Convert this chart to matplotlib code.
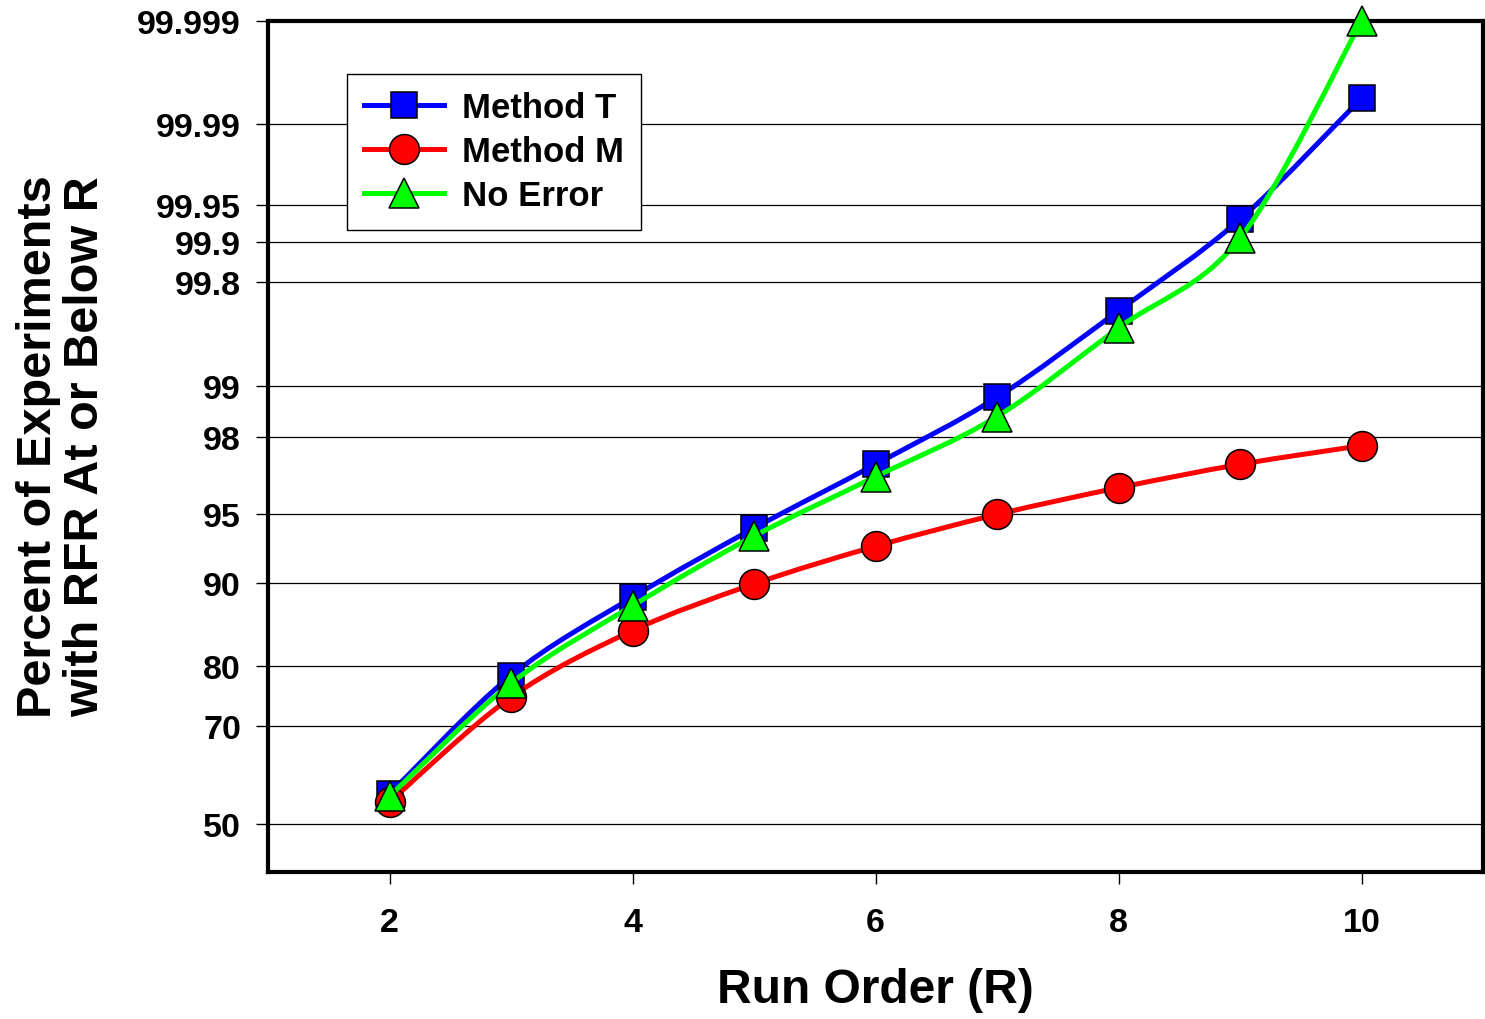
import math
from statistics import NormalDist
import numpy as np
import matplotlib
matplotlib.use("Agg")
import matplotlib.pyplot as plt
from matplotlib.path import Path
from matplotlib.patches import PathPatch
from matplotlib.lines import Line2D
from matplotlib.ticker import FixedLocator, FuncFormatter

# values (percent, probability scale)
run_order = [2, 3, 4, 5, 6, 7, 8, 9, 10]
method_t = [56.4, 78.5, 88.6, 94.2, 97.2, 98.83, 99.68, 99.934, 99.9942]
method_m = [54.7, 75.0, 84.8, 89.9, 93.0, 95.0, 96.3, 97.2, 97.78]
no_error = [55.9, 77.3, 87.7, 93.7, 96.75, 98.48, 99.58, 99.907, 99.999]
prob_ticks = [50, 70, 80, 90, 95, 98, 99, 99.8, 99.9, 99.95, 99.99, 99.999]
x_ticks = [2, 4, 6, 8, 10]

_nd = NormalDist()


def prob_fwd(p):
    p = np.clip(np.asarray(p, float) / 100.0, 1e-12, 1 - 1e-12)
    return np.vectorize(_nd.inv_cdf, otypes=[float])(p)


def prob_inv(z):
    z = np.asarray(z, float)
    return 50.0 * (1.0 + np.vectorize(math.erf, otypes=[float])(z / math.sqrt(2)))


def smooth_path(xs, ps):
    # Catmull-Rom through the points in scale space, as cubic Bezier segments
    xs = np.asarray(xs, float)
    zs = prob_fwd(ps)
    pts = np.column_stack([xs, zs])
    n = len(pts)
    verts = [pts[0]]
    codes = [Path.MOVETO]
    for i in range(n - 1):
        p0 = pts[i - 1] if i > 0 else pts[i]
        p1, p2 = pts[i], pts[i + 1]
        p3 = pts[i + 2] if i + 2 < n else pts[i + 1]
        c1 = p1 + (p2 - p0) / 6.0
        c2 = p2 - (p3 - p1) / 6.0
        verts += [c1, c2, p2]
        codes += [Path.CURVE4] * 3
    verts = np.array(verts)
    verts[:, 1] = prob_inv(verts[:, 1])
    return Path(verts, codes)


plt.rcParams["font.family"] = ["Liberation Sans", "DejaVu Sans"]
plt.rcParams["font.weight"] = "bold"

fig = plt.figure(figsize=(14.85, 10.2), dpi=100)
ax = fig.add_axes([268 / 1485, 1 - 873 / 1020, 1215 / 1485, 851 / 1020])
ax.set_yscale("function", functions=(prob_fwd, prob_inv))

series = [
    ("Method T", method_t, "#0000FF", "s", 19),
    ("Method M", method_m, "#FF0000", "o", 21.5),
    ("No Error", no_error, "#00FF00", "^", 21),
]
handles = []
for k, (name, vals, col, mk, ms) in enumerate(series):
    patch = PathPatch(smooth_path(run_order, vals), fill=False, edgecolor=col,
                      lw=3.6, capstyle="round", joinstyle="round",
                      zorder=3 + 2 * k)
    ax.add_patch(patch)
    ax.plot(run_order, vals, linestyle="none", marker=mk, markersize=ms,
            markerfacecolor=col, markeredgecolor="black", markeredgewidth=1.1,
            zorder=4 + 2 * k, clip_on=False)
    handles.append(Line2D([], [], color=col, lw=3.6, marker=mk, markersize=ms,
                          markerfacecolor=col, markeredgecolor="black",
                          markeredgewidth=1.1, label=name))

ax.set_xlim(1, 11)
ax.set_ylim(40, 99.999)
ax.xaxis.set_major_locator(FixedLocator(x_ticks))
ax.yaxis.set_major_locator(FixedLocator(prob_ticks))
ax.yaxis.set_minor_locator(FixedLocator([]))
ax.yaxis.set_major_formatter(FuncFormatter(lambda v, pos: "%g" % round(v, 4)))

ax.yaxis.grid(True, color="black", lw=0.9)
ax.set_axisbelow(True)
for s in ax.spines.values():
    s.set_linewidth(3)
ax.tick_params(axis="both", direction="out", length=8.5, width=1,
               labelsize=24.5, color="black")
ax.tick_params(axis="y", pad=11)
ax.tick_params(axis="x", pad=17)
for lab in ax.get_xticklabels() + ax.get_yticklabels():
    lab.set_fontweight("bold")

leg = ax.legend(handles=handles, loc="upper left",
                bbox_to_anchor=(0.065, 0.938), borderaxespad=0,
                fontsize=25, frameon=True, fancybox=False, framealpha=1,
                edgecolor="black", handlelength=2.3, handletextpad=0.5,
                labelspacing=0.32, borderpad=0.5)
leg.get_frame().set_linewidth(1)
leg.set_zorder(20)

fig.text(62 / 1485, 1 - 447 / 1020,
         "Percent of Experiments\nwith RFR At or Below R",
         rotation=90, ha="center", va="center", fontsize=35,
         fontweight="bold", linespacing=1.08)
fig.text(875.5 / 1485, 1 - 991 / 1020, "Run Order (R)", ha="center",
         va="center", fontsize=34.5, fontweight="bold")

fig.savefig("out.png", dpi=100)
